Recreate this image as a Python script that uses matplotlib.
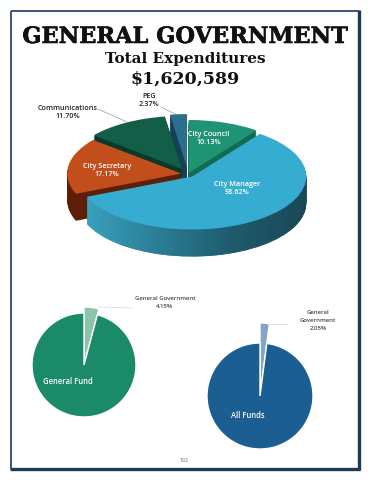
import matplotlib
matplotlib.use("Agg")
import matplotlib.pyplot as plt
import matplotlib.patheffects as pe
from matplotlib.path import Path
from matplotlib.patches import PathPatch
from matplotlib.colors import LinearSegmentedColormap
import numpy as np

# ---------------- data ----------------
main_labels = ["City Council", "City Manager", "City Secretary", "Communications", "PEG"]
main_values = [10.13, 58.62, 17.17, 11.70, 2.37]
main_pct = ["10.13%", "58.62%", "17.17%", "11.70%", "2.37%"]

gf_labels = ["General Government", "General Fund"]
gf_values = [4.15, 95.85]
af_labels = ["General Government", "All Funds"]
af_values = [2.05, 97.95]

title = "GENERAL GOVERNMENT"
subtitle = "Total Expenditures"
total = "$1,620,589"
page = "192"

# ---------------- styles ----------------
top_colors = ["#1f9474", "#35acd0", "#c24f1b", "#135e48", "#2a6f8c"]
side_colors = ["#136b52", "#2a7d96", "#5e1f08", "#0a382b", "#173f55"]
explode = [0.02, 0.06, 0.06, 0.11, 0.13]

W, H = 370, 480
fig = plt.figure(figsize=(W / 100, H / 100), dpi=100)
fig.patch.set_facecolor("white")

def fx(x):
    return x / W

def fy(y):
    return 1 - y / H

# full-figure axes in pixel coordinates (y up)
ax0 = fig.add_axes([0, 0, 1, 1])
ax0.set_axis_off()

# page border
bc = "#1d3a5a"
ax0.plot([11, 11], [H - 11, H - 469], color=bc, lw=1.2, solid_capstyle="butt")
ax0.plot([11, 359], [H - 11, H - 11], color=bc, lw=1.2, solid_capstyle="butt")
ax0.plot([359, 359], [H - 10, H - 470], color=bc, lw=2.4, solid_capstyle="butt")
ax0.plot([10, 360], [H - 469, H - 469], color=bc, lw=2.4, solid_capstyle="butt")

# titles
fig.text(fx(185), fy(43), title, ha="center", va="baseline",
         family="DejaVu Serif", weight="bold", fontsize=16.2, color="#111111",
         path_effects=[pe.withStroke(linewidth=0.4, foreground="#111111")])
fig.text(fx(185), fy(63), subtitle, ha="center", va="baseline",
         family="DejaVu Serif", weight="bold", fontsize=11, color="#111111")
fig.text(fx(185), fy(84), total, ha="center", va="baseline",
         family="DejaVu Serif", weight="bold", fontsize=12.5, color="#111111")

# ---------------- big 3D-like pie ----------------
cxp, cyp, rx, ry = 188, 174, 114, 53
ax1 = fig.add_axes([fx(cxp - 1.5 * rx), fy(cyp + 2 * ry), 3 * rx / W, 4 * ry / H])
ax1.set_axis_off()
depth = 27 / ry
nlay = 28
cm_paths = []
for i, d in enumerate(np.linspace(depth, 0, nlay)):
    is_top = i == nlay - 1
    wedges, _ = ax1.pie(main_values, explode=explode, startangle=90,
                        counterclock=False, center=(0, -d),
                        colors=top_colors if is_top else side_colors,
                        wedgeprops=dict(linewidth=0, antialiased=True))
    for w in wedges:
        w.set_zorder(i + 1)
    if not is_top:
        cm = wedges[1]
        cm_paths.append(cm.get_patch_transform().transform_path(cm.get_path()))

# gradient shading on the City Manager side wall
grad_cmap = LinearSegmentedColormap.from_list(
    "side", ["#3ca6c4", "#2b8098", "#1f5a6c", "#1a4656"])
gx = np.linspace(0, 1, 256)[None, :]
img = ax1.imshow(gx, cmap=grad_cmap, extent=(-1.0, 1.1, -1.6, 0.3),
                 aspect="auto", zorder=nlay - 0.5, interpolation="bilinear")
clip = PathPatch(Path.make_compound_path(*cm_paths), transform=ax1.transData,
                 facecolor="none", edgecolor="none")
img.set_clip_path(clip)

ax1.set_aspect("auto")
ax1.set_xlim(-1.5, 1.5)
ax1.set_ylim(-2, 2)

lab_font = dict(family="Open Sans", weight="semibold", fontsize=5.2,
                ha="center", va="center")
fig.text(fx(209), fy(135), "City Council", color="white", **lab_font)
fig.text(fx(209), fy(143), main_pct[0], color="white", **lab_font)
fig.text(fx(237), fy(184), "City Manager", color="white", **lab_font)
fig.text(fx(237), fy(193), main_pct[1], color="white", **lab_font)
fig.text(fx(107), fy(166), "City Secretary", color="white", **lab_font)
fig.text(fx(107), fy(174), main_pct[2], color="white", **lab_font)
fig.text(fx(68), fy(108), "Communications", color="#222222", **lab_font)
fig.text(fx(68), fy(116), main_pct[3], color="#222222", **lab_font)
fig.text(fx(149), fy(97), "PEG", color="#222222", **lab_font)
fig.text(fx(149), fy(105), main_pct[4], color="#222222", **lab_font)

ax0.plot([98, 127], [H - 109, H - 122], color="#999999", lw=0.5)
ax0.plot([161, 177], [H - 107, H - 115], color="#999999", lw=0.5)

# ---------------- small pies ----------------
w1, _ = ax0.pie(gf_values, startangle=90, counterclock=False,
                center=(84, H - 365), radius=52,
                colors=["#8cc4a8", "#1b8a68"],
                wedgeprops=dict(edgecolor="white", linewidth=1.0))
w1[0].set_radius(58)

w2, _ = ax0.pie(af_values, startangle=90, counterclock=False,
                center=(260, H - 396), radius=53,
                colors=["#86a4c6", "#1a5e92"],
                wedgeprops=dict(edgecolor="white", linewidth=1.0))
w2[0].set_radius(73)

ax0.set_aspect("auto")
ax0.set_xlim(0, W)
ax0.set_ylim(0, H)

ax0.plot([98, 132], [H - 307, H - 308], color="#dddddd", lw=0.6)
ax0.plot([267, 287], [H - 324, H - 324], color="#dddddd", lw=0.6)

sm_font = dict(family="Open Sans", weight="semibold", fontsize=4.3,
               ha="center", va="center", color="#444444")
fig.text(fx(165), fy(299), "General Government", **sm_font)
fig.text(fx(165), fy(306), "4.15%", **sm_font)
fig.text(fx(318), fy(313), "General", **sm_font)
fig.text(fx(318), fy(320), "Government", **sm_font)
fig.text(fx(318), fy(328), "2.05%", **sm_font)

fig.text(fx(68), fy(382), "General Fund", family="Open Sans", weight="semibold",
         fontsize=5.5, ha="center", va="center", color="white")
fig.text(fx(248), fy(416), "All Funds", family="Open Sans", weight="semibold",
         fontsize=5.5, ha="center", va="center", color="white")

fig.text(fx(184), fy(461), page, family="Open Sans", fontsize=3.8,
         ha="center", va="center", color="#666666")

fig.savefig("out.png", dpi=100, facecolor="white")
